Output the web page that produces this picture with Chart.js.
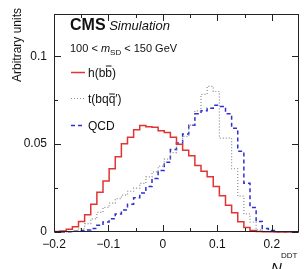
<!DOCTYPE html>
<html>
<head>
<meta charset="utf-8">
<script src="https://cdn.jsdelivr.net/npm/chart.js@4.4.1/dist/chart.umd.min.js"></script>
<style>
  html, body { margin: 0; padding: 0; background: #fff; }
  #caja { width: 304px; height: 269px; }
</style>
</head>
<body>
<div id="caja"><canvas id="graficoN2"></canvas></div>
<script>
// binning (40 bins from -0.2 to 0.25)
const binLow = -0.2;
const binWidth = 0.01125;

const xTicks = [-0.2, -0.1, 0, 0.1, 0.2];
const xMinorTicks = [-0.15, -0.05, 0.05, 0.15];
const yTicks = [0, 0.05, 0.1];
const yMinorTicks = [0.025, 0.075];

// normalised N2DDT distributions, one value per bin
const hbb = [0.0003, 0.0005, 0.0015, 0.003, 0.006, 0.0098, 0.0158, 0.0226, 0.029, 0.036,
             0.0429, 0.0502, 0.0539, 0.0582, 0.0607, 0.0599, 0.0596, 0.0577, 0.0566, 0.054,
             0.050, 0.0465, 0.0434, 0.0379, 0.0346, 0.0314, 0.0259, 0.0207, 0.0153, 0.011,
             0.0058, 0.0025, 0.0008, 0.0003, 0.0002, 0.0001, 0, 0, 0, 0];
const tbqq = [0, 0, 0.0002, 0.0008, 0.002, 0.0048, 0.0075, 0.0112, 0.014, 0.0164,
              0.019, 0.021, 0.0232, 0.025, 0.0277, 0.0314, 0.0342, 0.0375, 0.0415, 0.0452,
              0.0498, 0.0544, 0.0608, 0.069, 0.0783, 0.0829, 0.080, 0.0535, 0.0535, 0.036,
              0.0204, 0.0103, 0.0057, 0.0012, 0.0003, 0, 0, 0, 0, 0];
const qcd = [0, 0, 0.0002, 0.0004, 0.0008, 0.0012, 0.002, 0.0039, 0.0057, 0.0075,
             0.0103, 0.0125, 0.0158, 0.0195, 0.0222, 0.0259, 0.0305, 0.035, 0.0397, 0.047,
             0.0507, 0.0558, 0.0608, 0.0673, 0.069, 0.0705, 0.0722, 0.0715, 0.0673, 0.059,
             0.046, 0.0277, 0.014, 0.006, 0.002, 0.0008, 0.0002, 0, 0, 0];

const rojo = "rgb(226, 52, 52)";
const gris = "rgb(140, 140, 140)";
const azul = "rgb(48, 48, 210)";
const FUENTE = "'Liberation Sans', Arial, sans-serif";

// bin contents -> step points at the bin edges
function pasos(valores) {
    const pts = valores.map((v, i) => ({ x: binLow + i * binWidth, y: v }));
    pts.push({ x: binLow + valores.length * binWidth, y: valores[valores.length - 1] });
    return pts;
}

// pieces of text one after another (sub/superscripts, bars)
function textoRico(ctx, x, y, partes) {
    for (const p of partes) {
        ctx.font = p.font;
        const w = ctx.measureText(p.t).width;
        ctx.fillText(p.t, x, y + (p.dy || 0));
        if (p.barra) ctx.fillRect(x + 0.5, y - p.barra, w - 1, 1);
        x += w;
    }
}

// ROOT-like frame with inward ticks on all four sides
function marco(chart) {
    const ctx = chart.ctx;
    const a = chart.chartArea;
    const sx = chart.scales.x, sy = chart.scales.y;
    const L = Math.round(a.left), R = Math.round(a.right) - 1;
    const T = Math.round(a.top), B = Math.round(a.bottom) - 1;
    ctx.save();
    ctx.fillStyle = "#222";
    ctx.fillRect(L, T, R - L + 1, 1);
    ctx.fillRect(L, B, R - L + 1, 1);
    ctx.fillRect(L, T, 1, B - T + 1);
    ctx.fillRect(R, T, 1, B - T + 1);
    const tickX = (v, len) => {
        const px = Math.round(sx.getPixelForValue(v));
        ctx.fillRect(px, B - len, 1, len);
        ctx.fillRect(px, T + 1, 1, len);
    };
    const tickY = (v, len) => {
        const py = Math.round(sy.getPixelForValue(v));
        ctx.fillRect(L + 1, py, len, 1);
        ctx.fillRect(R - len, py, len, 1);
    };
    xTicks.forEach(v => tickX(v, 6));
    xMinorTicks.forEach(v => tickX(v, 3));
    yTicks.forEach(v => tickY(v, 6));
    yMinorTicks.forEach(v => tickY(v, 3));
    ctx.restore();
}

function textos(chart) {
    const ctx = chart.ctx;
    ctx.save();
    ctx.fillStyle = "#111";
    ctx.textBaseline = "alphabetic";

    // y title, aligned to the top of the axis
    ctx.save();
    ctx.translate(21, 8);
    ctx.rotate(-Math.PI / 2);
    ctx.textAlign = "right";
    ctx.font = "12px " + FUENTE;
    ctx.fillText("Arbitrary units", 0, 0);
    ctx.restore();

    ctx.textAlign = "left";
    textoRico(ctx, 70, 30, [
        { t: "CMS", font: "bold 16px " + FUENTE },
        { t: " Simulation", font: "italic 13px " + FUENTE }
    ]);
    textoRico(ctx, 70, 52, [
        { t: "100 < ", font: "11px " + FUENTE },
        { t: "m", font: "italic 11px " + FUENTE },
        { t: "SD", font: "8px " + FUENTE, dy: 3 },
        { t: " < 150 GeV", font: "11px " + FUENTE }
    ]);

    // legend
    const f12 = "12px " + FUENTE;
    const entradas = [
        { y: 72, color: rojo, dash: [], ancho: 1.5,
          partes: [{ t: "h(b", font: f12 }, { t: "b", font: f12, barra: 11 }, { t: ")", font: f12 }] },
        { y: 98, color: gris, dash: [1, 2], ancho: 1.2,
          partes: [{ t: "t(bq", font: f12 }, { t: "q", font: f12, barra: 9 }, { t: "\u2032)", font: f12 }] },
        { y: 125, color: azul, dash: [4, 3], ancho: 1.5,
          partes: [{ t: "QCD", font: f12 }] }
    ];
    entradas.forEach(e => {
        ctx.save();
        ctx.strokeStyle = e.color;
        ctx.lineWidth = e.ancho;
        ctx.setLineDash(e.dash);
        ctx.beginPath();
        ctx.moveTo(71, e.y + 0.5);
        ctx.lineTo(85, e.y + 0.5);
        ctx.stroke();
        ctx.restore();
        textoRico(ctx, 88, e.y + 4.5, e.partes);
    });

    // x title N2^DDT (cut by the bottom edge as in the figure)
    ctx.font = "italic 15px " + FUENTE;
    ctx.fillText("N", 271, 273);
    ctx.font = "8px " + FUENTE;
    ctx.fillText("DDT", 281, 258);
    ctx.fillText("2", 282, 277);
    ctx.restore();
}

const estiloRoot = {
    id: "estiloRoot",
    afterDraw(chart) {
        marco(chart);
        textos(chart);
    }
};

const conjuntos = [
    { label: "h(bb)", datos: hbb, color: rojo, dash: [], ancho: 1.5 },
    { label: "t(bqq')", datos: tbqq, color: gris, dash: [1, 2], ancho: 1.2 },
    { label: "QCD", datos: qcd, color: azul, dash: [4, 3], ancho: 1.5 }
];

new Chart(document.getElementById("graficoN2"), {
    type: "line",
    data: {
        datasets: conjuntos.map(c => ({
            label: c.label,
            data: pasos(c.datos),
            stepped: true,
            borderColor: c.color,
            borderWidth: c.ancho,
            borderDash: c.dash,
            pointRadius: 0,
            fill: false,
            clip: false
        }))
    },
    options: {
        responsive: true,
        maintainAspectRatio: false,
        animation: false,
        layout: { padding: { top: 1, right: 5, left: 0, bottom: 0 } },
        plugins: { legend: { display: false }, tooltip: { enabled: false } },
        scales: {
            x: {
                type: "linear",
                min: -0.2,
                max: 0.25,
                afterBuildTicks: s => { s.ticks = xTicks.map(v => ({ value: v })); },
                afterFit: s => { s.height = 37; },
                grid: { display: false, drawTicks: false },
                border: { display: false },
                ticks: {
                    padding: 5,
                    maxRotation: 0,
                    color: "#111",
                    font: { family: FUENTE, size: 12 },
                    callback: v => v < 0 ? "\u2212" + Math.abs(v) : String(v)
                }
            },
            y: {
                type: "linear",
                min: 0,
                max: 0.124,
                afterBuildTicks: s => { s.ticks = yTicks.map(v => ({ value: v })); },
                afterFit: s => { s.width = 54; },
                grid: { display: false, drawTicks: false },
                border: { display: false },
                ticks: {
                    padding: 7,
                    color: "#111",
                    font: { family: FUENTE, size: 12 },
                    callback: v => String(v)
                }
            }
        }
    },
    plugins: [estiloRoot]
});
</script>
</body>
</html>
